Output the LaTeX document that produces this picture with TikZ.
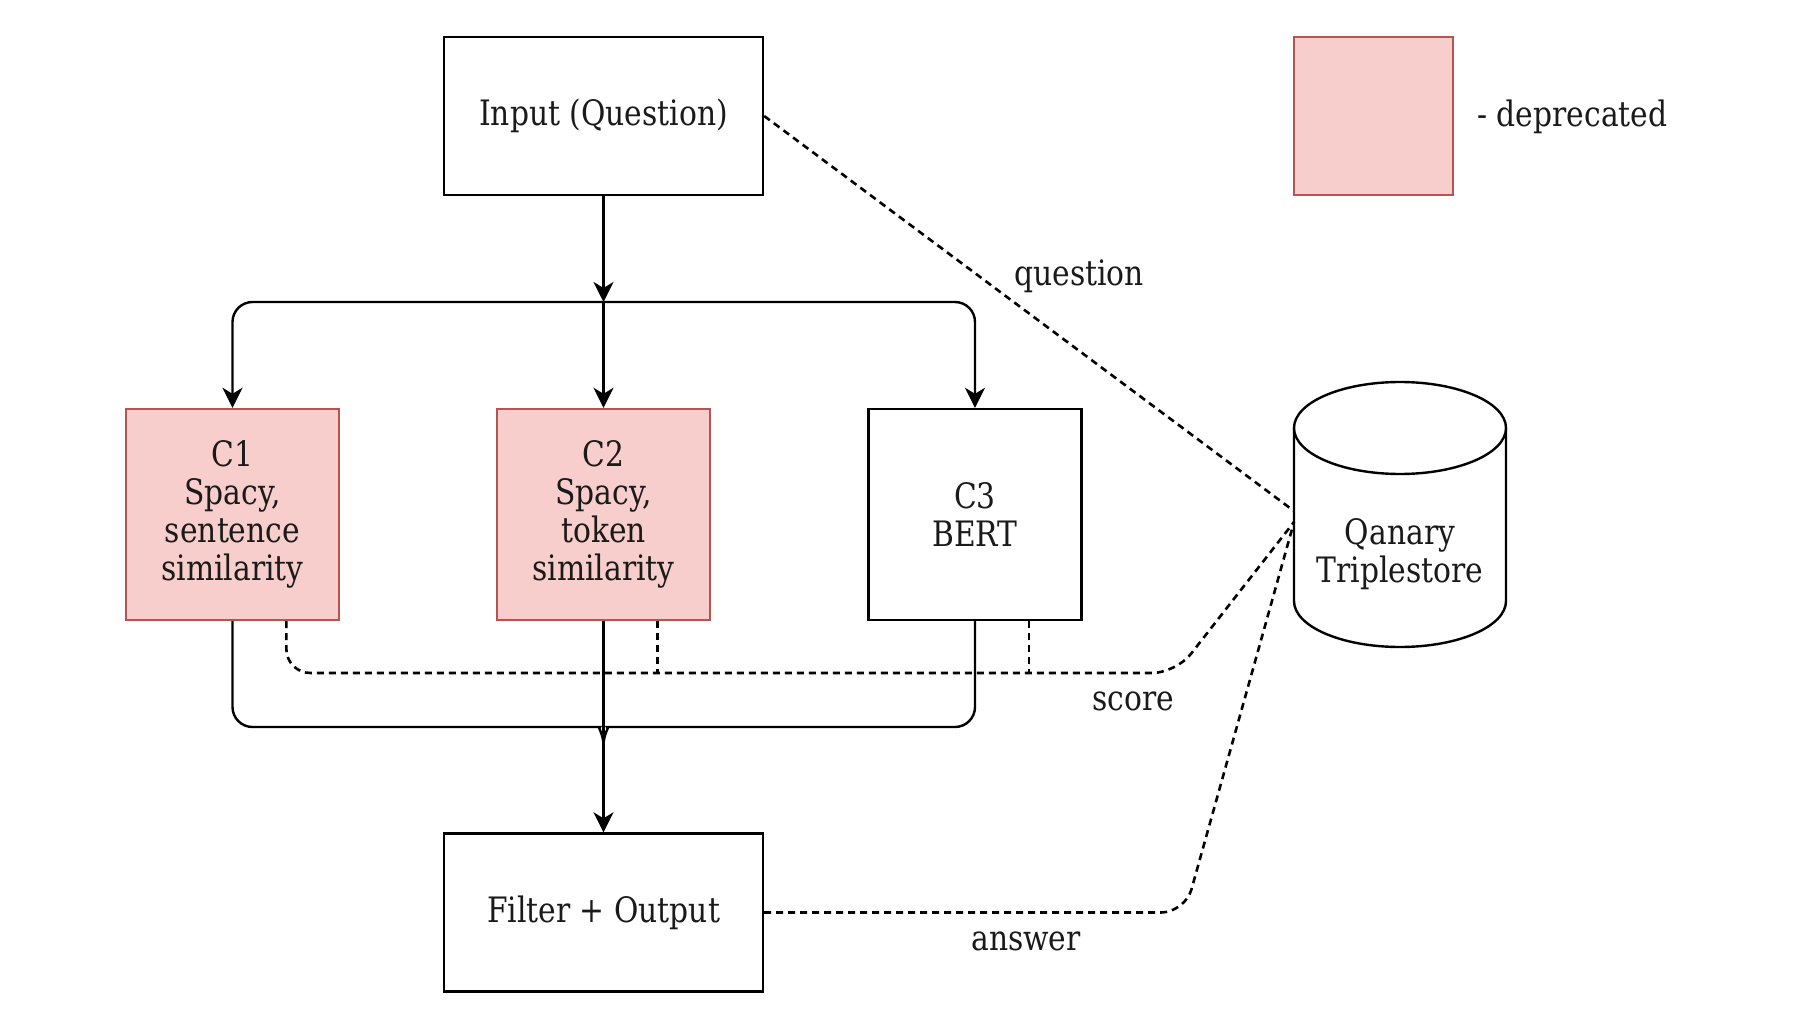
\documentclass[tikz,border=0pt]{standalone}
\usepackage{fontspec}
\setmainfont{DejaVu Serif}[FakeStretch=0.85]
\usetikzlibrary{arrows.meta,calc}
\definecolor{depfill}{HTML}{F8CECC}
\definecolor{depdraw}{HTML}{B85450}
\definecolor{txt}{HTML}{1A1A1A}
\begin{document}
\begin{tikzpicture}[x=0.5pt,y=-0.5pt,
  font=\fontsize{17.5}{19}\selectfont, text=txt,
  box/.style={draw=black, line width=1.2pt, fill=white, align=center, inner sep=0pt},
  bigbox/.style={box, minimum width=159.5pt, minimum height=79pt},
  cbox/.style={box, minimum width=106.5pt, minimum height=105.5pt},
  dep/.style={fill=depfill, draw=depdraw},
  arr/.style={line width=1.2pt, -{Stealth[length=10pt,width=10pt,inset=3pt]}},
  conn/.style={line width=1.2pt},
  dashline/.style={line width=1.3pt, dash pattern=on 3.5pt off 2.5pt}
]
\useasboundingbox (0,0) rectangle (1800,1016);

% nodes
\node[bigbox] (input) at (603.5,116) {Input (Question)};
\node[bigbox] (filter) at (603.5,912.5) {Filter + Output};
\node[cbox,dep] (c1) at (232.5,514.5) {C1\\Spacy,\\sentence\\similarity};
\node[cbox,dep] (c2) at (603.5,514.5) {C2\\Spacy,\\token\\similarity};
\node[cbox] (c3) at (975,514.5) {C3\\BERT};
\node[box,dep,minimum width=79.5pt,minimum height=79pt] (legend) at (1373.5,116) {};
\node[anchor=west,inner sep=0pt] (legtxt) at (1477,117) {- deprecated};

% cylinder
\node[minimum width=106pt, minimum height=132pt, inner sep=0pt] (db) at (1400,514) {};
\draw[line width=1.2pt, fill=white] (1294,428) -- (1294,601)
   arc[start angle=180, end angle=360, x radius=53pt, y radius=23pt]
   -- (1506,428);
\draw[line width=1.2pt, fill=white] (1400,428) ellipse[x radius=53pt, y radius=23pt];
\node[align=center, inner sep=0pt] (dbtxt) at (1400,554) {Qanary\\Triplestore};

\coordinate (qend) at (1294,511);
\coordinate (send) at (1294,522);
\coordinate (j) at (603.5,302);

% top split
\draw[arr] (input.south) -- (j);
\draw[arr] (j) -- (c2.north);
\draw[arr, rounded corners=10pt] (j) -| (c1.north);
\draw[arr, rounded corners=10pt] (j) -| (c3.north);

% merge
\draw[conn, rounded corners=10pt] (c1.south) |- (580,727) [sharp corners] .. controls (597,727) and (603.5,733) .. (603.5,746);
\draw[conn, rounded corners=10pt] (c3.south) |- (627,727) [sharp corners] .. controls (610,727) and (603.5,733) .. (603.5,746);
\draw[arr] (c2.south) -- (filter.north);

% dashed connections
\draw[dashline] (input.east) -- (qend);
\draw[dashline, rounded corners=12pt] ($(c1.south)!0.5!(c1.south east)$) |- (1176,673) -- (send);
\draw[dashline] ($(c2.south)!0.5!(c2.south east)$) -- ++(0,53);
\draw[dashline] ($(c3.south)!0.5!(c3.south east)$) -- ++(0,53);
\draw[dashline, rounded corners=12pt] (filter.east) -- (1185,912.5) -- (send);

% labels
\node (lq) at (1079,276) {question};
\node (ls) at (1133,701) {score};
\node (la) at (1026,941) {answer};
\end{tikzpicture}
\end{document}
